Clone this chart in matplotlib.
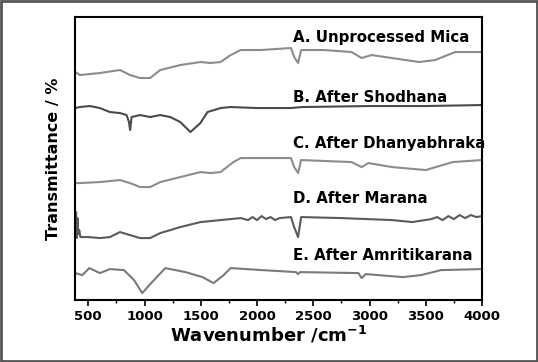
import matplotlib.pyplot as plt
from matplotlib.patches import Rectangle
from matplotlib.ticker import MultipleLocator

# FTIR spectra (wavenumber in cm-1, transmittance in arbitrary offset units)
wn_a = [385, 424, 603, 782, 871, 961, 1050, 1140, 1318, 1497, 1587, 1676, 1766, 1855, 2034,
        2302, 2330, 2365, 2392, 2598, 2840, 2930, 3019, 3198, 3440, 3583, 3762, 4000]
t_a = [228, 225, 227, 230, 225, 222, 222, 230, 235, 238, 237, 238, 245, 250, 250,
       252, 243, 237, 250, 250, 248, 242, 245, 242, 238, 240, 248, 248]

wn_b = [385, 424, 515, 603, 692, 782, 840, 862, 872, 885, 961, 1050, 1140, 1229, 1318,
        1408, 1497, 1560, 1676, 1766, 2000, 2300, 2400, 3000, 3500, 4000]
t_b = [192, 193, 194, 192, 188, 187, 185, 178, 170, 183, 185, 183, 185, 183, 178,
       168, 177, 188, 192, 193, 192, 192, 193, 194, 194, 195]

wn_c = [380, 424, 603, 782, 871, 961, 1050, 1140, 1318, 1497, 1587, 1676, 1790, 1855, 2034,
        2302, 2330, 2365, 2392, 2840, 2930, 2990, 3198, 3500, 3740, 4000]
t_c = [117, 117, 118, 120, 117, 113, 113, 118, 123, 128, 127, 128, 138, 142, 142,
       142, 133, 127, 140, 138, 133, 137, 133, 130, 138, 140]

wn_d = [380, 392, 398, 405, 412, 420, 430, 500, 603, 692, 782, 871, 961, 1050, 1140, 1318,
        1497, 1676, 1855, 1920, 1960, 2000, 2040, 2080, 2120, 2160, 2200, 2302, 2330, 2365, 2392,
        2750, 3198, 3380, 3550, 3600, 3650, 3700, 3750, 3800, 3850, 3900, 3950, 4000]
t_d = [75, 88, 62, 82, 66, 70, 63, 63, 62, 63, 68, 65, 62, 62, 67, 73,
       78, 80, 82, 80, 83, 80, 84, 81, 83, 80, 82, 83, 73, 63, 83,
       82, 80, 78, 81, 83, 80, 84, 81, 85, 82, 85, 83, 84]

wn_e = [385, 447, 510, 603, 692, 817, 907, 980, 1059, 1185, 1363, 1515, 1614, 1703, 1766,
        2043, 2347, 2365, 2383, 2901, 2930, 2966, 3296, 3458, 3637, 4000]
t_e = [27, 25, 32, 27, 31, 30, 20, 7, 17, 32, 28, 23, 17, 25, 32,
       30, 28, 26, 28, 27, 22, 26, 23, 25, 30, 31]

labels = ["A. Unprocessed Mica", "B. After Shodhana", "C. After Dhanyabhraka",
          "D. After Marana", "E. After Amritikarana"]
label_y = [263, 203, 157, 102, 45]

fig = plt.figure(figsize=(5.38, 3.62), dpi=100)
ax = fig.add_axes([0.140, 0.171, 0.756, 0.782])

ax.plot(wn_a, t_a, color='#8c8c8c', lw=1.5)
ax.plot(wn_b, t_b, color='#4a4a4a', lw=1.5)
ax.plot(wn_c, t_c, color='#8c8c8c', lw=1.5)
ax.plot(wn_d, t_d, color='#5a5a5a', lw=1.5)
ax.plot(wn_e, t_e, color='#7a7a7a', lw=1.5)

for lab, y in zip(labels, label_y):
    ax.text(2320, y, lab, fontsize=10.8, fontweight='bold', va='center', ha='left')

ax.set_xlim(385, 4000)
ax.set_ylim(0, 283)
ax.set_yticks([])
ax.xaxis.set_major_locator(MultipleLocator(500))
ax.xaxis.set_minor_locator(MultipleLocator(250))
ax.tick_params(axis='x', which='major', length=4, width=1.2, labelsize=9.5, pad=3)
ax.tick_params(axis='x', which='minor', length=2.5, width=1)
for lbl in ax.get_xticklabels():
    lbl.set_fontweight('bold')
for s in ax.spines.values():
    s.set_linewidth(1.5)

ax.set_xlabel('Wavenumber /cm$^{\\mathbf{-1}}$', fontsize=13, fontweight='bold')
ax.xaxis.set_label_coords(0.475, -0.085)
ax.set_ylabel('Transmittance / %', fontsize=11.5, fontweight='bold', labelpad=10)

# grey frame round the whole picture
fig.patches.append(Rectangle((0.002, 0.003), 0.996, 0.994, transform=fig.transFigure,
                             fill=False, edgecolor='#555555', lw=2))

fig.savefig('out.png', dpi=100)
